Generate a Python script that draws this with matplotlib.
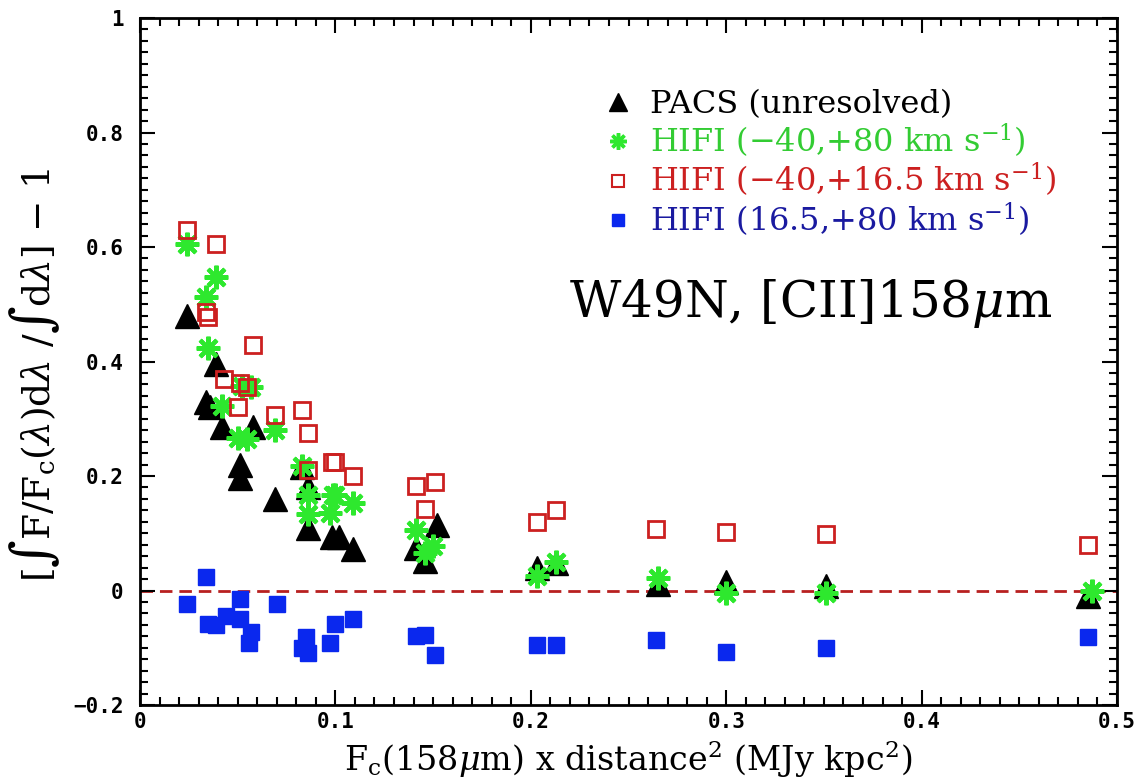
import numpy as np
import matplotlib.pyplot as plt
from matplotlib.lines import Line2D
from matplotlib.ticker import MultipleLocator, FuncFormatter

plt.rcParams['font.family'] = ['DejaVu Serif']
plt.rcParams['mathtext.fontset'] = 'dejavuserif'

# PACS (unresolved)
pacs_x = [0.024, 0.034, 0.036, 0.039, 0.042, 0.051, 0.051, 0.058, 0.069, 0.083, 0.086, 0.086,
          0.098, 0.102, 0.109, 0.141, 0.146, 0.152, 0.203, 0.213, 0.265, 0.300, 0.351, 0.485]
pacs_y = [0.48, 0.33, 0.32, 0.395, 0.285, 0.22, 0.197, 0.285, 0.16, 0.215, 0.18, 0.11,
          0.093, 0.093, 0.073, 0.075, 0.052, 0.115, 0.04, 0.048, 0.012, 0.015, 0.008, -0.01]

# HIFI (-40,+80 km/s)
hifi_all_x = [0.024, 0.034, 0.035, 0.039, 0.042, 0.050, 0.052, 0.055, 0.057, 0.069, 0.083, 0.086, 0.086,
              0.097, 0.099, 0.100, 0.109, 0.141, 0.146, 0.150, 0.203, 0.213, 0.265, 0.300, 0.351, 0.487]
hifi_all_y = [0.606, 0.512, 0.424, 0.548, 0.323, 0.267, 0.358, 0.265, 0.355, 0.28, 0.218, 0.166, 0.134,
              0.136, 0.166, 0.166, 0.152, 0.105, 0.066, 0.077, 0.026, 0.05, 0.022, -0.005, -0.004, 0.0]

# HIFI (-40,+16.5 km/s)
hifi_blue_x = [0.024, 0.039, 0.034, 0.035, 0.058, 0.043, 0.051, 0.055, 0.050, 0.069, 0.083, 0.086, 0.086,
               0.098, 0.100, 0.109, 0.141, 0.151, 0.146, 0.203, 0.213, 0.264, 0.300, 0.351, 0.485]
hifi_blue_y = [0.63, 0.605, 0.487, 0.478, 0.428, 0.37, 0.363, 0.355, 0.32, 0.306, 0.316, 0.276, 0.21,
               0.224, 0.224, 0.2, 0.183, 0.189, 0.143, 0.119, 0.14, 0.108, 0.103, 0.098, 0.08]

# HIFI (16.5,+80 km/s)
hifi_red_x = [0.024, 0.034, 0.035, 0.039, 0.044, 0.051, 0.051, 0.057, 0.056, 0.070, 0.085, 0.083, 0.086,
              0.097, 0.100, 0.109, 0.141, 0.146, 0.151, 0.203, 0.213, 0.264, 0.300, 0.351, 0.485]
hifi_red_y = [-0.023, 0.023, -0.058, -0.061, -0.044, -0.014, -0.049, -0.073, -0.091, -0.024, -0.082, -0.1, -0.11,
              -0.091, -0.058, -0.049, -0.08, -0.078, -0.112, -0.096, -0.096, -0.087, -0.107, -0.101, -0.082]

labels = ['PACS (unresolved)',
          'HIFI (\u221240,+80 km s$^{-1}$)',
          'HIFI (\u221240,+16.5 km s$^{-1}$)',
          'HIFI (16.5,+80 km s$^{-1}$)']

fig = plt.figure(figsize=(11.44, 7.83), dpi=100)
ax = fig.add_axes([0.1224, 0.0996, 0.854, 0.8774])

ax.axhline(0, color='#b82020', ls=(0, (4.5, 2.5)), lw=2, zorder=1)
ax.plot(pacs_x, pacs_y, ls='none', marker='^', color='k', ms=17, zorder=3)
ax.plot(hifi_all_x, hifi_all_y, ls='none', marker=(8, 2, 0), color='#2ee82e', ms=17, mew=3, zorder=4)
ax.plot(hifi_blue_x, hifi_blue_y, ls='none', marker='s', mfc='none', mec='#cc2020', ms=12, mew=2, zorder=5)
ax.plot(hifi_red_x, hifi_red_y, ls='none', marker='s', color='#0a28ee', ms=11, zorder=3)

ax.set_xlim(0, 0.5)
ax.set_ylim(-0.2, 1)
ax.xaxis.set_major_locator(MultipleLocator(0.1))
ax.xaxis.set_minor_locator(MultipleLocator(0.01))
ax.yaxis.set_major_locator(MultipleLocator(0.2))
ax.yaxis.set_minor_locator(MultipleLocator(0.02))
fmt = FuncFormatter(lambda v, p: ('%g' % round(v, 3)).replace('-', '\u2212'))
ax.xaxis.set_major_formatter(fmt)
ax.yaxis.set_major_formatter(fmt)
ax.tick_params(which='both', direction='in', top=True, right=True, width=1.5)
ax.tick_params(which='major', length=11)
ax.tick_params(axis='x', which='major', pad=5)
ax.tick_params(axis='y', which='major', pad=12)
ax.tick_params(which='minor', length=6)
for lab in ax.get_xticklabels() + ax.get_yticklabels():
    lab.set_family('DejaVu Sans Mono')
    lab.set_fontweight('bold')
    lab.set_fontsize(15)
for s in ax.spines.values():
    s.set_linewidth(2)

ax.set_xlabel(r'F$_\mathrm{c}$(158$\mu$m) x distance$^2$ (MJy kpc$^2$)', fontsize=24, labelpad=5)
ax.set_ylabel(r'[$\int$F/F$_\mathrm{c}$($\lambda$)d$\lambda$ /$\int$d$\lambda$] $-$ 1', fontsize=27)
ax.yaxis.set_label_coords(-0.08, 0.48)

ax.text(0.934, 0.565, r'W49N, [CII]158$\mu$m', transform=ax.transAxes, ha='right', va='baseline',
        fontsize=36)

handles = [Line2D([], [], ls='none', marker='^', color='k', ms=13),
           Line2D([], [], ls='none', marker=(8, 2, 0), color='#2ee82e', ms=12, mew=2.5),
           Line2D([], [], ls='none', marker='s', mfc='none', mec='#cc2020', ms=9, mew=1.5),
           Line2D([], [], ls='none', marker='s', color='#0a28ee', ms=9)]
ax.legend(handles, labels, loc='upper left', bbox_to_anchor=(0.46, 0.92), frameon=False,
          fontsize=23, labelcolor=['k', '#33cc33', '#cc2020', '#1a1aa0'],
          handlelength=0.8, handletextpad=0.6, labelspacing=0.05, borderpad=0)

fig.savefig('out.png', dpi=100)
